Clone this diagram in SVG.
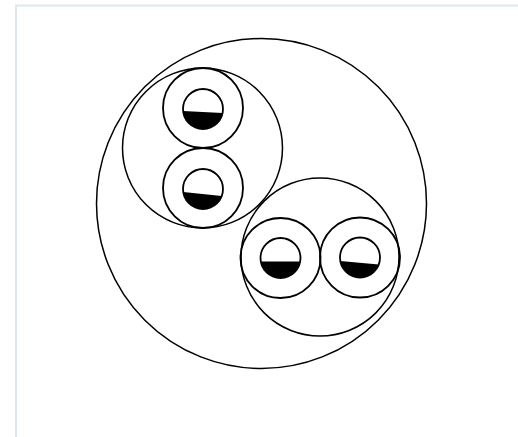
<svg xmlns="http://www.w3.org/2000/svg" width="518" height="437" viewBox="0 0 518 437">
<style>
.ln{fill:none;stroke:#000;stroke-width:1.5}
.ring{fill:none;stroke:#000;stroke-width:1.8}
.fill{fill:#000;stroke:none}
.frame{fill:none;stroke:#dde7ec;stroke-width:2}
</style>
<rect width="518" height="437" fill="#fff"/>
<path class="frame" d="M16,437 V5.5 H518"/>
<g id="outer">
<circle class="ln" cx="261.5" cy="203.5" r="165"/>
</g>
<g id="group-upper">
<circle class="ln" cx="202.5" cy="148" r="80"/>
</g>
<g id="group-lower">
<circle class="ln" cx="320" cy="257" r="79"/>
</g>
<g id="node1">
<circle class="ring" cx="203" cy="108" r="40"/>
<circle class="ring" cx="203" cy="109" r="20"/>
<path class="fill" d="M183.1,111 L222.6,113 A20,20 0 0 1 183.1,111 Z"/>
</g>
<g id="node2">
<circle class="ring" cx="203" cy="188" r="40"/>
<circle class="ring" cx="203" cy="189" r="20"/>
<path class="fill" d="M183.2,192 L221.7,196 A20,20 0 0 1 183.2,192 Z"/>
</g>
<g id="node3">
<circle class="ring" cx="280.5" cy="258" r="40"/>
<circle class="ring" cx="280.5" cy="258" r="20"/>
<path class="fill" d="M260.8,261.5 L300.2,261.5 A20,20 0 0 1 260.8,261.5 Z"/>
</g>
<g id="node4">
<circle class="ring" cx="360" cy="257.5" r="40"/>
<circle class="ring" cx="360" cy="257.5" r="20"/>
<path class="fill" d="M340.3,261 L378.7,264.5 A20,20 0 0 1 340.3,261 Z"/>
</g>
<g id="connectors"></g>
</svg>
